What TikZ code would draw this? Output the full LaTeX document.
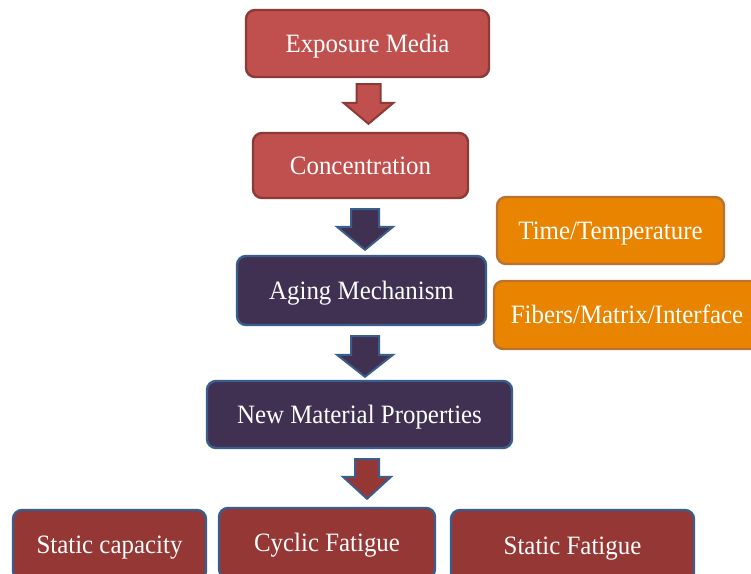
\documentclass[tikz,border=0pt]{standalone}
\usepackage{fontspec}
\setmainfont[FakeStretch=0.94]{Liberation Serif}
\usetikzlibrary{calc}
\definecolor{redfill}{HTML}{C0504D}
\definecolor{redline}{HTML}{8C3A38}
\definecolor{purfill}{HTML}{403152}
\definecolor{blueline}{HTML}{3A5E8C}
\definecolor{orfill}{HTML}{E98400}
\definecolor{orline}{HTML}{BA7132}
\definecolor{drfill}{HTML}{953735}
\newlength\sw \newlength\hw
\newcommand\barrow[6]{% style, top coord, tip coord, head length, half shaft, half head
  \setlength\sw{#5pt}\setlength\hw{#6pt}%
  \path[#1] let \p1=(#2), \p2=(#3) in
    (\x2-\sw,\y1) -- (\x2+\sw,\y1) -- (\x2+\sw,\y2+#4pt) -- (\x2+\hw,\y2+#4pt)
    -- (\x2,\y2) -- (\x2-\hw,\y2+#4pt) -- (\x2-\sw,\y2+#4pt) -- cycle;}
\tikzset{
  box/.style={rectangle, rounded corners=9pt, line width=2.4pt, text=white,
    font=\fontsize{26.5}{30}\selectfont, inner sep=0pt, text height=17.5pt, text depth=0pt},
  redbox/.style={box, fill=redfill, draw=redline},
  purbox/.style={box, fill=purfill, draw=blueline},
  orbox/.style={box, fill=orfill, draw=orline},
  drbox/.style={box, fill=drfill, draw=blueline},
  redarr/.style={fill=redfill, draw=redline, line width=2pt, line join=miter},
  purarr/.style={fill=purfill, draw=blueline, line width=2pt, line join=miter},
  drarr/.style={fill=drfill, draw=blueline, line width=2pt, line join=miter},
}
\begin{document}
\begin{tikzpicture}[x=1pt,y=-1pt]
\clip (0,0) rectangle (751,573);
\fill[white] (0,0) rectangle (751,573);
% boxes
\node[redbox, minimum width=243, minimum height=67] (exp) at (367.5,43.5) {Exposure Media};
\node[redbox, minimum width=215, minimum height=65] (conc) at (360.5,165.5) {Concentration};
\node[orbox, minimum width=227, minimum height=67] (time) at (610.5,230.5) {Time/Temperature};
\node[purbox, minimum width=249, minimum height=69] (aging) at (361.5,290.5) {Aging Mechanism};
\node[orbox, minimum width=266, minimum height=68] (fib) at (627,315) {Fibers/Matrix/Interface};
\node[purbox, minimum width=305, minimum height=67] (newmat) at (359.5,414.5) {New Material Properties};
\node[drbox, minimum width=193, minimum height=70] (statcap) at (109.5,545) {Static capacity};
\node[drbox, minimum width=216, minimum height=70] (cyc) at (327,543) {Cyclic Fatigue};
\node[drbox, minimum width=243, minimum height=72] (statfat) at (572.5,546) {Static Fatigue};
% arrow anchor coordinates
\coordinate (a1top) at ($(exp.south)+(0,6)$);
\coordinate (a1tip) at ($(conc.north)+(8,-8)$);
\coordinate (a2top) at ($(conc.south)+(0,10)$);
\coordinate (a2tip) at ($(aging.north)+(3.5,-5)$);
\coordinate (a3top) at ($(aging.south)+(0,10)$);
\coordinate (a3tip) at ($(newmat.north)+(5.5,-3)$);
\coordinate (a4top) at ($(newmat.south)+(0,10)$);
\coordinate (a4tip) at ($(cyc.north)+(40,-8)$);
\barrow{redarr}{a1top}{a1tip}{21}{12}{25}
\barrow{purarr}{a2top}{a2tip}{23}{14}{28}
\barrow{purarr}{a3top}{a3tip}{22}{14}{28}
\barrow{drarr}{a4top}{a4tip}{22}{12}{24}
\end{tikzpicture}
\end{document}
